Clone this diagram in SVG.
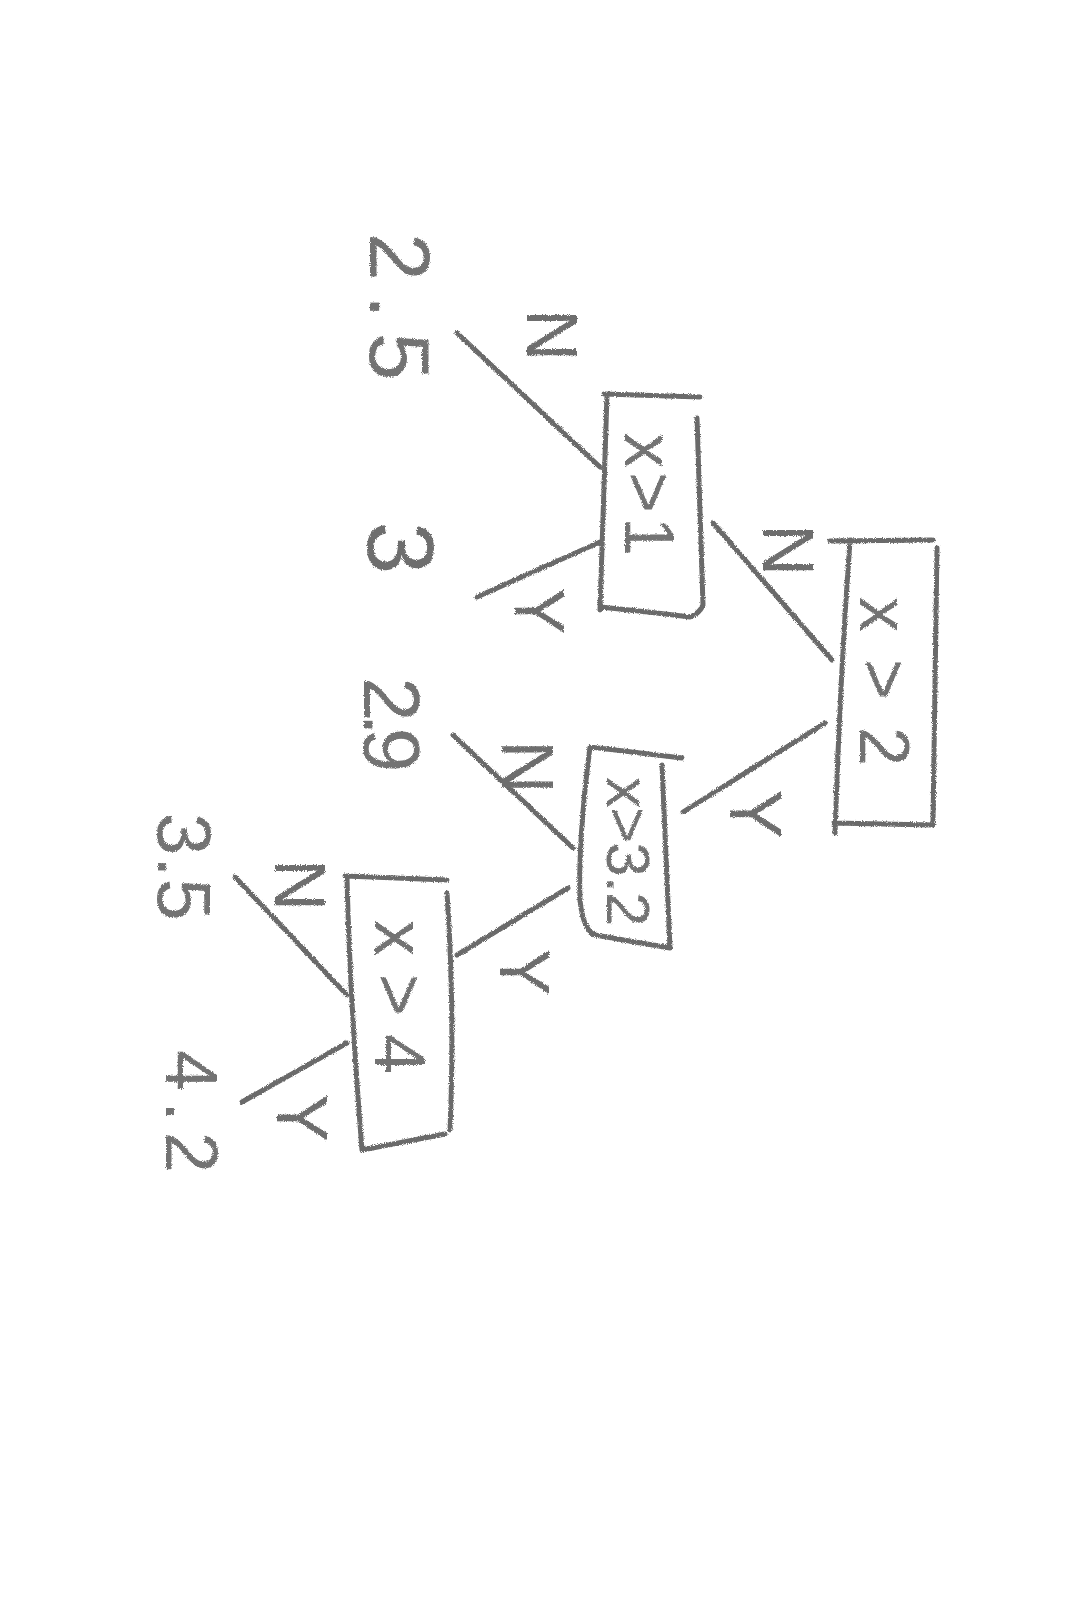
<svg xmlns="http://www.w3.org/2000/svg" width="1080" height="1620" viewBox="0 0 1080 1620">
  <defs>
    <filter id="pencil" filterUnits="userSpaceOnUse" x="0" y="0" width="1080" height="1620">
      <feTurbulence type="fractalNoise" baseFrequency="1.1" numOctaves="2" seed="7" result="n"/>
      <feDisplacementMap in="SourceGraphic" in2="n" scale="3.5" xChannelSelector="R" yChannelSelector="G"/>
    </filter>
    <style>
      .pen { fill: none; stroke: #6a6a6a; stroke-width: 5; stroke-linecap: round; stroke-linejoin: round; }
      .txt { font-family: "Liberation Sans", Arial, sans-serif; fill: #737373; }
      .lbl { font-family: "Liberation Sans", Arial, sans-serif; fill: #6e6e6e; text-anchor: middle; }
    </style>
  </defs>
  <rect width="1080" height="1620" fill="#ffffff"/>
  <g filter="url(#pencil)">
    <g id="connectors">
      <path class="pen" d="M713,523 L832,660"/>
      <path class="pen" d="M825,723 L683,812"/>
      <path class="pen" d="M457,333 L600,467"/>
      <path class="pen" d="M600,542 L477,597"/>
      <path class="pen" d="M453,735 L573,848"/>
      <path class="pen" d="M568,888 L457,955"/>
      <path class="pen" d="M235,877 L347,995"/>
      <path class="pen" d="M242,1102 L347,1043"/>
      <text class="lbl" font-size="72" transform="translate(763,550) rotate(90)">N</text>
      <text class="lbl" font-size="74" transform="translate(730,814) rotate(90)">Y</text>
      <text class="lbl" font-size="72" transform="translate(527,335) rotate(90)">N</text>
      <text class="lbl" font-size="70" transform="translate(515,611) rotate(90)">Y</text>
      <text class="lbl" font-size="74" transform="translate(502,767) rotate(90)">N</text>
      <text class="lbl" font-size="70" transform="translate(500,972) rotate(90)">Y</text>
      <text class="lbl" font-size="72" transform="translate(275,885) rotate(90)">N</text>
      <text class="lbl" font-size="72" transform="translate(277,1118) rotate(90)">Y</text>
    </g>
    <g id="node-x-gt-2">
      <path class="pen" d="M830,541 L933,540 M937,548 L933,822 M834,823 L933,825 M850,540 Q840,680 835,833"/>
      <text class="txt" font-size="70" letter-spacing="27" transform="translate(860,597) rotate(90)">x&gt;2</text>
    </g>
    <g id="node-x-gt-1">
      <path class="pen" d="M604,394 L700,397 M607,395 L600,610 M600,607 Q650,612 690,617 M697,418 L703,605 Q700,613 690,617"/>
      <text class="txt" font-size="70" letter-spacing="4" transform="translate(625,433) rotate(90)">x&gt;1</text>
    </g>
    <g id="node-x-gt-3-2">
      <path class="pen" d="M590,747 L682,758 M590,747 Q578,840 580,900 Q583,930 595,935 M595,935 L670,948 M662,765 L670,948"/>
      <text class="txt" font-size="62" letter-spacing="-1" transform="translate(607,777) rotate(90)">x&gt;3.2</text>
    </g>
    <g id="node-x-gt-4">
      <path class="pen" d="M345,876 L447,880 M347,878 Q350,1000 362,1150 M362,1150 L445,1134 M447,893 Q455,1010 450,1130"/>
      <text class="txt" font-size="72" letter-spacing="18" transform="translate(375,920) rotate(90)">x&gt;4</text>
    </g>
    <g id="leaf-2-5">
      <text class="txt" font-size="86" letter-spacing="14" transform="translate(370,233) rotate(90)">2.5</text>
    </g>
    <g id="leaf-3">
      <text class="lbl" font-size="95" transform="translate(368,548) rotate(90)">3</text>
    </g>
    <g id="leaf-2-9">
      <text class="txt" font-size="80" letter-spacing="-8" transform="translate(364,677) rotate(90)">2.9</text>
    </g>
    <g id="leaf-3-5">
      <text class="txt" font-size="76" letter-spacing="1" transform="translate(158,813) rotate(90)">3.5</text>
    </g>
    <g id="leaf-4-2">
      <text class="txt" font-size="74" letter-spacing="10" transform="translate(166,1050) rotate(90)">4.2</text>
    </g>
  </g>
</svg>
